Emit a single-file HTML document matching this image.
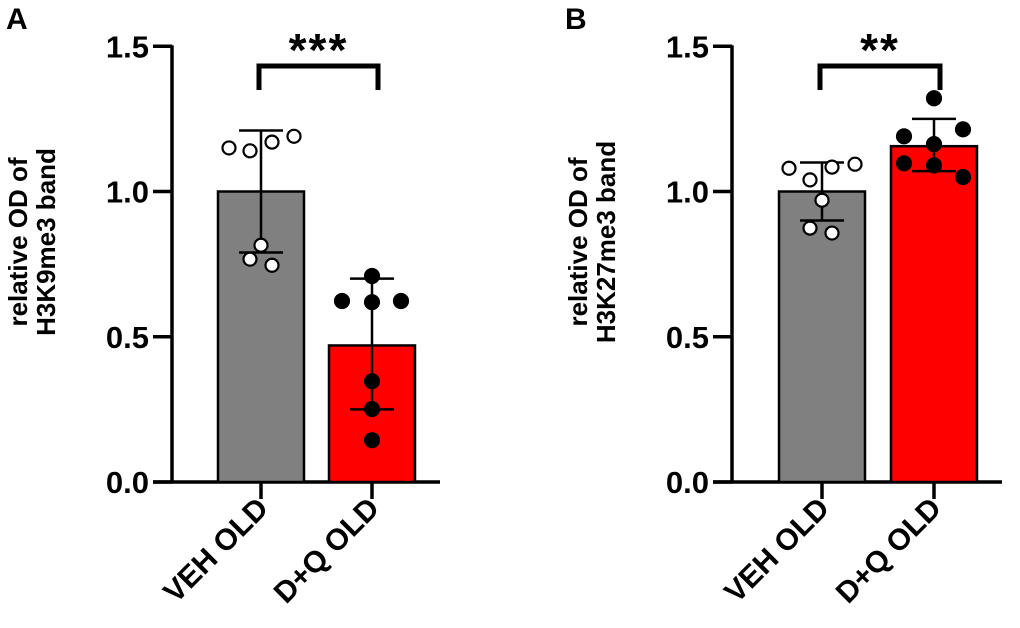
<!DOCTYPE html>
<html><head><meta charset="utf-8"><style>
html,body{margin:0;padding:0;background:#fff;}
svg{display:block;font-family:"Liberation Sans",Arial,sans-serif;font-weight:bold;}
</style></head><body>
<svg id="c" width="1020" height="628" viewBox="0 0 1020 628" xmlns="http://www.w3.org/2000/svg"></svg>
<script>
const categories = ["VEH OLD", "D+Q OLD"];
const tickValues = [0, 0.5, 1.0, 1.5];
const tickLabels = ["0.0", "0.5", "1.0", "1.5"];
// Panel A (H3K9me3)
const meansA = [1.0, 0.47];
const sdHighA = [1.21, 0.70];
const sdLowA = [0.79, 0.25];
const pointsA_veh = [1.15, 1.14, 1.17, 1.19, 0.815, 0.767, 0.746];
const pointsA_dq = [0.709, 0.623, 0.619, 0.623, 0.347, 0.251, 0.144];
const jitterA_veh = [-32, -11, 11, 33, 0, -11, 11];
const jitterA_dq = [0, -30, 0, 29, 0, 0, 0];
// Panel B (H3K27me3)
const meansB = [1.0, 1.156];
const sdHighB = [1.10, 1.25];
const sdLowB = [0.90, 1.07];
const pointsB_veh = [1.08, 1.04, 1.084, 1.094, 0.97, 0.874, 0.857];
const pointsB_dq = [1.321, 1.19, 1.214, 1.163, 1.097, 1.09, 1.05];
const jitterB_veh = [-33, -12, 10, 33, 0, -12, 10];
const jitterB_dq = [0, -30, 29, 0, -30, 0, 29];
const sigA = "***", sigB = "**";

const svg = document.getElementById('c');
const NS = "http://www.w3.org/2000/svg";
function mk(tag, attrs, parent){const e=document.createElementNS(NS,tag);for(const k in attrs)e.setAttribute(k,attrs[k]);(parent||svg).appendChild(e);return e;}
const y0 = 482, yPer = 290.5;
function yScale(v){return y0 - v*yPer;}

function panel(o){
  const g = mk('g',{});
  
  
  const L = mk('text',{x:o.letterX,y:29,'font-size':30,fill:'#000'},g); L.textContent=o.letter;
   
  const ax = mk('line',{x1:o.axisX,y1:yScale(1.5)-1,x2:o.axisX,y2:y0+1.5,stroke:'#000','stroke-width':3.5},g);
   
  const xa = mk('line',{x1:o.axisX-19,y1:y0,x2:o.axisEnd,y2:y0,stroke:'#000','stroke-width':3.5},g);
   
  tickValues.forEach((v,i)=>{
    const t = mk('line',{x1:o.axisX-19,y1:yScale(v),x2:o.axisX,y2:yScale(v),stroke:'#000','stroke-width':3.5},g);
     
    const tl = mk('text',{x:o.axisX-23,y:yScale(v)+11,'font-size':31,'text-anchor':'end',fill:'#000'},g);
    tl.textContent = tickLabels[i];
     
  });
  const yt = mk('text',{transform:`translate(${o.axisX-145},242) rotate(-90)`,'font-size':26,'text-anchor':'middle',fill:'#000'},g);
   
  const t1 = mk('tspan',{x:0,y:0},yt); t1.textContent='relative OD of';
  const t2 = mk('tspan',{x:0,y:28},yt); t2.textContent=o.ytitle;
  const colors=['#808080','#ff0000'];
  const pts=[o.pv,o.pd], jit=[o.jv,o.jd];
  o.centers.forEach((cx,i)=>{
    const b = mk('rect',{x:cx-43,y:yScale(o.means[i]),width:86,height:y0-yScale(o.means[i]),fill:colors[i],stroke:'#000','stroke-width':2.5},g);
     
    const xt = mk('line',{x1:cx,y1:y0,x2:cx,y2:y0+17,stroke:'#000','stroke-width':3.5},g);
     
    const xl = mk('text',{transform:`translate(${cx+9},${y0+28}) rotate(-45)`,'font-size':30,'text-anchor':'end',fill:'#000'},g);
    xl.textContent = categories[i];
     
    const e1 = mk('line',{x1:cx,y1:yScale(o.hi[i]),x2:cx,y2:yScale(o.lo[i]),stroke:'#000','stroke-width':2.5},g);
     
    [o.hi[i],o.lo[i]].forEach(v=>{
      const c = mk('line',{x1:cx-22,y1:yScale(v),x2:cx+22,y2:yScale(v),stroke:'#000','stroke-width':2.5},g);
       
    });
    pts[i].forEach((v,k)=>{
      const p = mk('circle',{cx:cx+jit[i][k],cy:yScale(v),r:i?7:6.5,fill:i?'#000':'#fff',stroke:'#000','stroke-width':2.2},g);
       
    });
  });
  const br = mk('path',{d:`M${o.centers[0]-2},90 V66 H${o.centers[1]+6} V90`,fill:'none',stroke:'#000','stroke-width':5},g);
   
  const st = mk('text',{x:(o.centers[0]+o.centers[1])/2+2,y:66,'font-size':46,'text-anchor':'middle',fill:'#000','letter-spacing':2},g);
  st.textContent=o.sig;
   
}
panel({id:'panel-a',letter:'A',letterX:6,axisX:172,axisEnd:440,centers:[261,372],means:meansA,hi:sdHighA,lo:sdLowA,pv:pointsA_veh,pd:pointsA_dq,jv:jitterA_veh,jd:jitterA_dq,ytitle:'H3K9me3 band',sig:sigA});
panel({id:'panel-b',letter:'B',letterX:565,axisX:732,axisEnd:1002,centers:[822,934],means:meansB,hi:sdHighB,lo:sdLowB,pv:pointsB_veh,pd:pointsB_dq,jv:jitterB_veh,jd:jitterB_dq,ytitle:'H3K27me3 band',sig:sigB});
</script>
</body></html>
